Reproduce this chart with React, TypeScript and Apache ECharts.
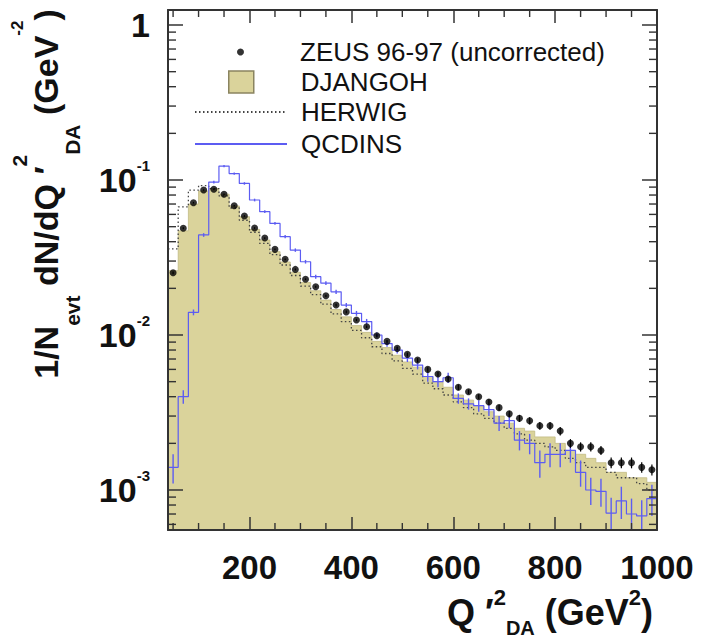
import React, { useEffect, useRef } from 'react';
import * as echarts from 'echarts';

// ---- data (bins of 20 GeV^2, centres) ----
const BIN_CENTERS = [
  50, 70, 90, 110, 130, 150, 170, 190, 210, 230, 250, 270, 290, 310, 330, 350,
  370, 390, 410, 430, 450, 470, 490, 510, 530, 550, 570, 590, 610, 630, 650, 670,
  690, 710, 730, 750, 770, 790, 810, 830, 850, 870, 890, 910, 930, 950, 970, 990,
];
const BIN_HALF = 10;

const ZEUS = [
  0.0252, 0.0488, 0.0714, 0.0862, 0.0871, 0.0809, 0.0683, 0.0586, 0.049, 0.0422, 0.0357, 0.0308, 0.0265, 0.0229, 0.0205, 0.0179,
  0.0156, 0.0141, 0.0125, 0.0113, 0.0099, 0.0091, 0.0082, 0.0075, 0.0069, 0.006, 0.0056, 0.0052, 0.0046, 0.0043, 0.004, 0.0037,
  0.0034, 0.0031, 0.0029, 0.0028, 0.0026, 0.0026, 0.0024, 0.002, 0.0019, 0.0019, 0.0018, 0.0015, 0.0015, 0.0015, 0.0014, 0.00135,
];
const ZEUS_ERR = [
  0.0005, 0.0007, 0.0009, 0.001, 0.001, 0.0009, 0.0008, 0.0007, 0.0006, 0.0005, 0.0005, 0.0004, 0.0004, 0.0003, 0.0003, 0.0003,
  0.0003, 0.0003, 0.0002, 0.0002, 0.0002, 0.0002, 0.0002, 0.0002, 0.0002, 0.0002, 0.0002, 0.0002, 0.0002, 0.00015, 0.00015, 0.00015,
  0.00015, 0.00015, 0.00015, 0.00015, 0.00015, 0.00015, 0.00015, 0.00013, 0.00013, 0.00013, 0.00012, 0.00012, 0.00012, 0.00012, 0.00011, 0.00011,
];
const DJANGOH = [
  0.026, 0.047, 0.07, 0.085, 0.088, 0.081, 0.068, 0.058, 0.048, 0.041, 0.0345, 0.0296, 0.0254, 0.0218, 0.0193, 0.0168,
  0.0146, 0.0131, 0.0115, 0.0104, 0.0091, 0.0083, 0.0074, 0.0067, 0.0062, 0.0054, 0.005, 0.0046, 0.0041, 0.0038, 0.0035, 0.0032,
  0.003, 0.0027, 0.0025, 0.0024, 0.0022, 0.0022, 0.002, 0.0018, 0.0017, 0.0016, 0.0015, 0.0013, 0.0013, 0.0012, 0.0012, 0.00112,
];
const HERWIG = [
  0.036, 0.067, 0.086, 0.092, 0.088, 0.079, 0.066, 0.055, 0.046, 0.039, 0.033, 0.0283, 0.0242, 0.0207, 0.0182, 0.0158,
  0.0137, 0.0122, 0.0107, 0.0096, 0.0084, 0.0076, 0.0068, 0.0061, 0.0056, 0.0049, 0.0045, 0.0041, 0.0037, 0.0034, 0.0031, 0.0029,
  0.0027, 0.0025, 0.0023, 0.0021, 0.002, 0.0019, 0.0018, 0.0016, 0.0015, 0.0014, 0.0014, 0.0013, 0.0012, 0.0012, 0.0011, 0.001,
];
const QCDINS = [
  0.0014, 0.004, 0.014, 0.0442, 0.097, 0.123, 0.11, 0.095, 0.0743, 0.0625, 0.0525, 0.0431, 0.0353, 0.0297, 0.0238, 0.0216,
  0.019, 0.0156, 0.0138, 0.0122, 0.01, 0.0088, 0.008, 0.0071, 0.0064, 0.0054, 0.005, 0.0053, 0.0039, 0.0036, 0.0035, 0.0033,
  0.0027, 0.0028, 0.0021, 0.002, 0.0015, 0.0017, 0.0017, 0.0018, 0.0013, 0.001, 0.00098, 0.00071, 0.00085, 0.0007, 0.00068, 0.00088,
];
const QCDINS_ERR = [
  0.0003, 0.0004, 0.0006, 0.0012, 0.002, 0.0022, 0.002, 0.0018, 0.0015, 0.0013, 0.0011, 0.001, 0.0009, 0.0008, 0.0007, 0.0006,
  0.0006, 0.0005, 0.0005, 0.0005, 0.0004, 0.0004, 0.0004, 0.0004, 0.0004, 0.0004, 0.0004, 0.0004, 0.0003, 0.0003, 0.0003, 0.0003,
  0.0003, 0.0003, 0.0003, 0.0003, 0.0003, 0.0003, 0.0003, 0.0003, 0.00025, 0.0002, 0.0002, 0.00018, 0.0002, 0.00018, 0.00018, 0.0002,
];

const X_MIN = 40;
const X_MAX = 1000;
const Y_MIN = 5.52e-4;
const Y_MAX = 1.25;
const X_MAJOR = [200, 400, 600, 800, 1000];
const X_MINOR = [50, 100, 150, 250, 300, 350, 450, 500, 550, 650, 700, 750, 850, 900, 950];
const Y_MINOR = [
  6e-4, 7e-4, 8e-4, 9e-4,
  2e-3, 3e-3, 4e-3, 5e-3, 6e-3, 7e-3, 8e-3, 9e-3,
  2e-2, 3e-2, 4e-2, 5e-2, 6e-2, 7e-2, 8e-2, 9e-2,
  2e-1, 3e-1, 4e-1, 5e-1, 6e-1, 7e-1, 8e-1, 9e-1,
];

const NAME_ZEUS = 'ZEUS 96-97 (uncorrected)';
const NAME_DJ = 'DJANGOH';
const NAME_HW = 'HERWIG';
const NAME_QCD = 'QCDINS';

const FONT = '"Liberation Sans", Arial, Helvetica, sans-serif';
const FRAME = '#333';
const FILL = '#dad39b';
const BLUE = '#5c5cf2';

function stepPoints(vals: number[]) {
  const pts: number[][] = [];
  vals.forEach((v, i) => {
    pts.push([BIN_CENTERS[i] - BIN_HALF, v]);
    pts.push([BIN_CENTERS[i] + BIN_HALF, v]);
  });
  return pts;
}

export default function App() {
  const ref = useRef<HTMLDivElement>(null);

  useEffect(() => {
    if (!ref.current) return;
    const chart = echarts.init(ref.current, undefined, { renderer: 'svg' });

    const errBar = (color: string, width: number) => (params: any, api: any) => {
      const x = api.value(0);
      const v = api.value(1);
      const e = api.value(2);
      const p1 = api.coord([x, Math.max(v - e, Y_MIN)]);
      const p2 = api.coord([x, v + e]);
      return {
        type: 'line',
        shape: { x1: p1[0], y1: p1[1], x2: p2[0], y2: p2[1] },
        style: { stroke: color, lineWidth: width },
      };
    };

    const legendText = (pad: number) => ({
      fontSize: 26, fontFamily: FONT, color: '#111', lineHeight: 30, padding: [0, 0, 0, pad],
    });
    const legendBase = { padding: 0, selectedMode: false };

    const option: any = {
      animation: false,
      backgroundColor: '#fff',
      grid: { left: 168, right: 45, top: 10, bottom: 109, containLabel: false, outerBoundsMode: 'none' },
      legend: [
        {
          ...legendBase, left: 237, top: 52 - 15, itemWidth: 7, itemHeight: 7,
          textStyle: legendText(300 - 237 - 7 - 5),
          data: [{ name: NAME_ZEUS, icon: 'circle' }],
        },
        {
          ...legendBase, left: 228, top: 82 - 15, itemWidth: 25, itemHeight: 22,
          textStyle: legendText(300 - 228 - 25 - 5),
          data: [{ name: NAME_DJ, icon: 'rect', itemStyle: { color: FILL, borderColor: '#8a8460', borderWidth: 1.5 } }],
        },
        {
          ...legendBase, left: 194, top: 112 - 15, itemWidth: 92, itemHeight: 10,
          textStyle: legendText(9),
          data: [{ name: NAME_HW, itemStyle: { opacity: 0 } }],
        },
        {
          ...legendBase, left: 194, top: 144 - 15, itemWidth: 92, itemHeight: 10,
          textStyle: legendText(9),
          data: [{ name: NAME_QCD, itemStyle: { opacity: 0 } }],
        },
      ],
      xAxis: [
        {
          type: 'value', min: X_MIN, max: X_MAX, position: 'bottom', z: 5,
          axisLine: { show: true, lineStyle: { color: FRAME, width: 2 } },
          axisTick: { show: true, inside: true, length: 13, customValues: X_MAJOR, lineStyle: { color: FRAME, width: 1.5 } },
          axisLabel: {
            show: true, customValues: X_MAJOR, margin: 21, fontSize: 33, fontWeight: 'bold', fontFamily: FONT, color: '#111',
            formatter: (v: number) => String(v),
          },
          splitLine: { show: false },
          name: '{b|Q ′}{sup|2}{sub|DA}{b| (GeV}{sup|2}{b|)}',
          nameLocation: 'end',
          nameGap: -4,
          nameMoveOverlap: false,
          nameTextStyle: {
            align: 'right', verticalAlign: 'top', padding: [56, 0, 0, 0],
            rich: {
              b: { fontSize: 36, fontWeight: 'bold', fontFamily: FONT, color: '#111', lineHeight: 52 },
              sup: { fontSize: 22, fontWeight: 'bold', fontFamily: FONT, color: '#111', lineHeight: 22, verticalAlign: 'top' },
              sub: { fontSize: 20, fontWeight: 'bold', fontFamily: FONT, color: '#111', lineHeight: 20, verticalAlign: 'bottom' },
            },
          },
        },
        {
          type: 'value', min: X_MIN, max: X_MAX, position: 'top', z: 5,
          axisLine: { show: true, lineStyle: { color: FRAME, width: 2 } },
          axisTick: { show: true, inside: true, length: 13, customValues: X_MAJOR, lineStyle: { color: FRAME, width: 1.5 } },
          axisLabel: { show: false },
          splitLine: { show: false },
        },
      ],
      yAxis: [
        {
          type: 'log', min: Y_MIN, max: Y_MAX, logBase: 10, position: 'left', z: 5,
          axisLine: { show: true, lineStyle: { color: FRAME, width: 2 } },
          axisTick: { show: true, inside: true, length: 15, lineStyle: { color: FRAME, width: 1.5 } },
          splitLine: { show: false },
          axisLabel: {
            show: true, margin: 18, align: 'right',
            showMinLabel: false, showMaxLabel: false,
            formatter: (v: number) => {
              const lg = Math.log10(v);
              const r = Math.round(lg);
              if (Math.abs(lg - r) > 1e-6) return '';
              if (r === 0) return '{b|1}';
              return `{b|10}{s|${r}}`;
            },
            rich: {
              b: { fontSize: 34, fontWeight: 'bold', fontFamily: FONT, color: '#111', lineHeight: 44 },
              s: { fontSize: 15, fontWeight: 'bold', fontFamily: FONT, color: '#111', lineHeight: 15, verticalAlign: 'top' },
            },
          },
          name: '{b|1/N}{sub|evt}{b| dN/dQ ′}{sup|2}{sub|DA}{b| (GeV}{sup2|-2}{b|)}',
          nameLocation: 'middle',
          nameRotate: 90,
          nameGap: 85,
          nameMoveOverlap: false,
          nameTextStyle: {
            padding: [0, 0, 0, 152],
            rich: {
              b: { fontSize: 34, fontWeight: 'bold', fontFamily: FONT, color: '#111', lineHeight: 74 },
              sub: { fontSize: 21, fontWeight: 'bold', fontFamily: FONT, color: '#111', lineHeight: 22, verticalAlign: 'bottom' },
              sup: { fontSize: 21, fontWeight: 'bold', fontFamily: FONT, color: '#111', lineHeight: 22, verticalAlign: 'top' },
              sup2: { fontSize: 17, fontWeight: 'bold', fontFamily: FONT, color: '#111', lineHeight: 18, verticalAlign: 'top' },
            },
          },
        },
        {
          type: 'log', min: Y_MIN, max: Y_MAX, logBase: 10, position: 'right', z: 5,
          axisLine: { show: true, lineStyle: { color: FRAME, width: 2 } },
          axisTick: { show: true, inside: true, length: 15, lineStyle: { color: FRAME, width: 1.5 } },
          axisLabel: { show: false },
          splitLine: { show: false },
        },
      ],
      series: [
        {
          name: NAME_DJ, type: 'line', xAxisIndex: 0, yAxisIndex: 0, z: 1, silent: true,
          data: stepPoints(DJANGOH), symbol: 'none', showSymbol: false,
          itemStyle: { color: FILL },
          lineStyle: { color: '#c2ba84', width: 0.8 },
          areaStyle: { color: FILL, opacity: 1, origin: 'start' },
        },
        {
          name: NAME_HW, type: 'line', z: 2, silent: true,
          data: stepPoints(HERWIG), symbol: 'none', showSymbol: false,
          itemStyle: { color: '#444' },
          lineStyle: { color: '#444', width: 1.3, type: [1.5, 2.5] },
        },
        {
          name: NAME_QCD, type: 'line', z: 3, silent: true,
          data: stepPoints(QCDINS), symbol: 'none', showSymbol: false,
          itemStyle: { color: BLUE },
          lineStyle: { color: BLUE, width: 1.2 },
        },
        {
          name: NAME_QCD + ' errors', type: 'custom', z: 3, silent: true, clip: true,
          data: BIN_CENTERS.map((x, i) => [x, QCDINS[i], QCDINS_ERR[i]]),
          renderItem: errBar(BLUE, 1.4),
        },
        {
          name: NAME_ZEUS + ' errors', type: 'custom', z: 4, silent: true, clip: true,
          data: BIN_CENTERS.map((x, i) => [x, ZEUS[i], ZEUS_ERR[i]]),
          renderItem: errBar('#000', 1.2),
        },
        {
          name: NAME_ZEUS, type: 'scatter', z: 4, silent: true,
          data: BIN_CENTERS.map((x, i) => [x, ZEUS[i]]),
          symbol: 'circle', symbolSize: 7,
          itemStyle: { color: '#000' },
        },
        {
          name: 'minor y ticks', type: 'custom', z: 10, silent: true, clip: false,
          data: Y_MINOR.map((v) => [X_MIN, v]),
          renderItem: (params: any, api: any) => {
            const v = api.value(1);
            const l = api.coord([X_MIN, v]);
            const r = api.coord([X_MAX, v]);
            const st = { stroke: FRAME, lineWidth: 1.4 };
            return {
              type: 'group',
              children: [
                { type: 'line', shape: { x1: l[0], y1: l[1], x2: l[0] + 8, y2: l[1] }, style: st },
                { type: 'line', shape: { x1: r[0] - 8, y1: r[1], x2: r[0], y2: r[1] }, style: st },
              ],
            };
          },
        },
        {
          name: 'minor x ticks', type: 'custom', z: 10, silent: true, clip: false,
          data: X_MINOR.map((v) => [v, Y_MIN]),
          renderItem: (params: any, api: any) => {
            const v = api.value(0);
            const b = api.coord([v, Y_MIN]);
            const t = api.coord([v, Y_MAX]);
            const st = { stroke: FRAME, lineWidth: 1.4 };
            return {
              type: 'group',
              children: [
                { type: 'line', shape: { x1: b[0], y1: b[1], x2: b[0], y2: b[1] - 7 }, style: st },
                { type: 'line', shape: { x1: t[0], y1: t[1], x2: t[0], y2: t[1] + 7 }, style: st },
              ],
            };
          },
        },
      ],
    };

    chart.setOption(option);
    return () => chart.dispose();
  }, []);

  return (
    <div
      ref={ref}
      style={{ position: 'fixed', left: 0, top: 0, width: 702, height: 639, background: '#fff' }}
    />
  );
}
